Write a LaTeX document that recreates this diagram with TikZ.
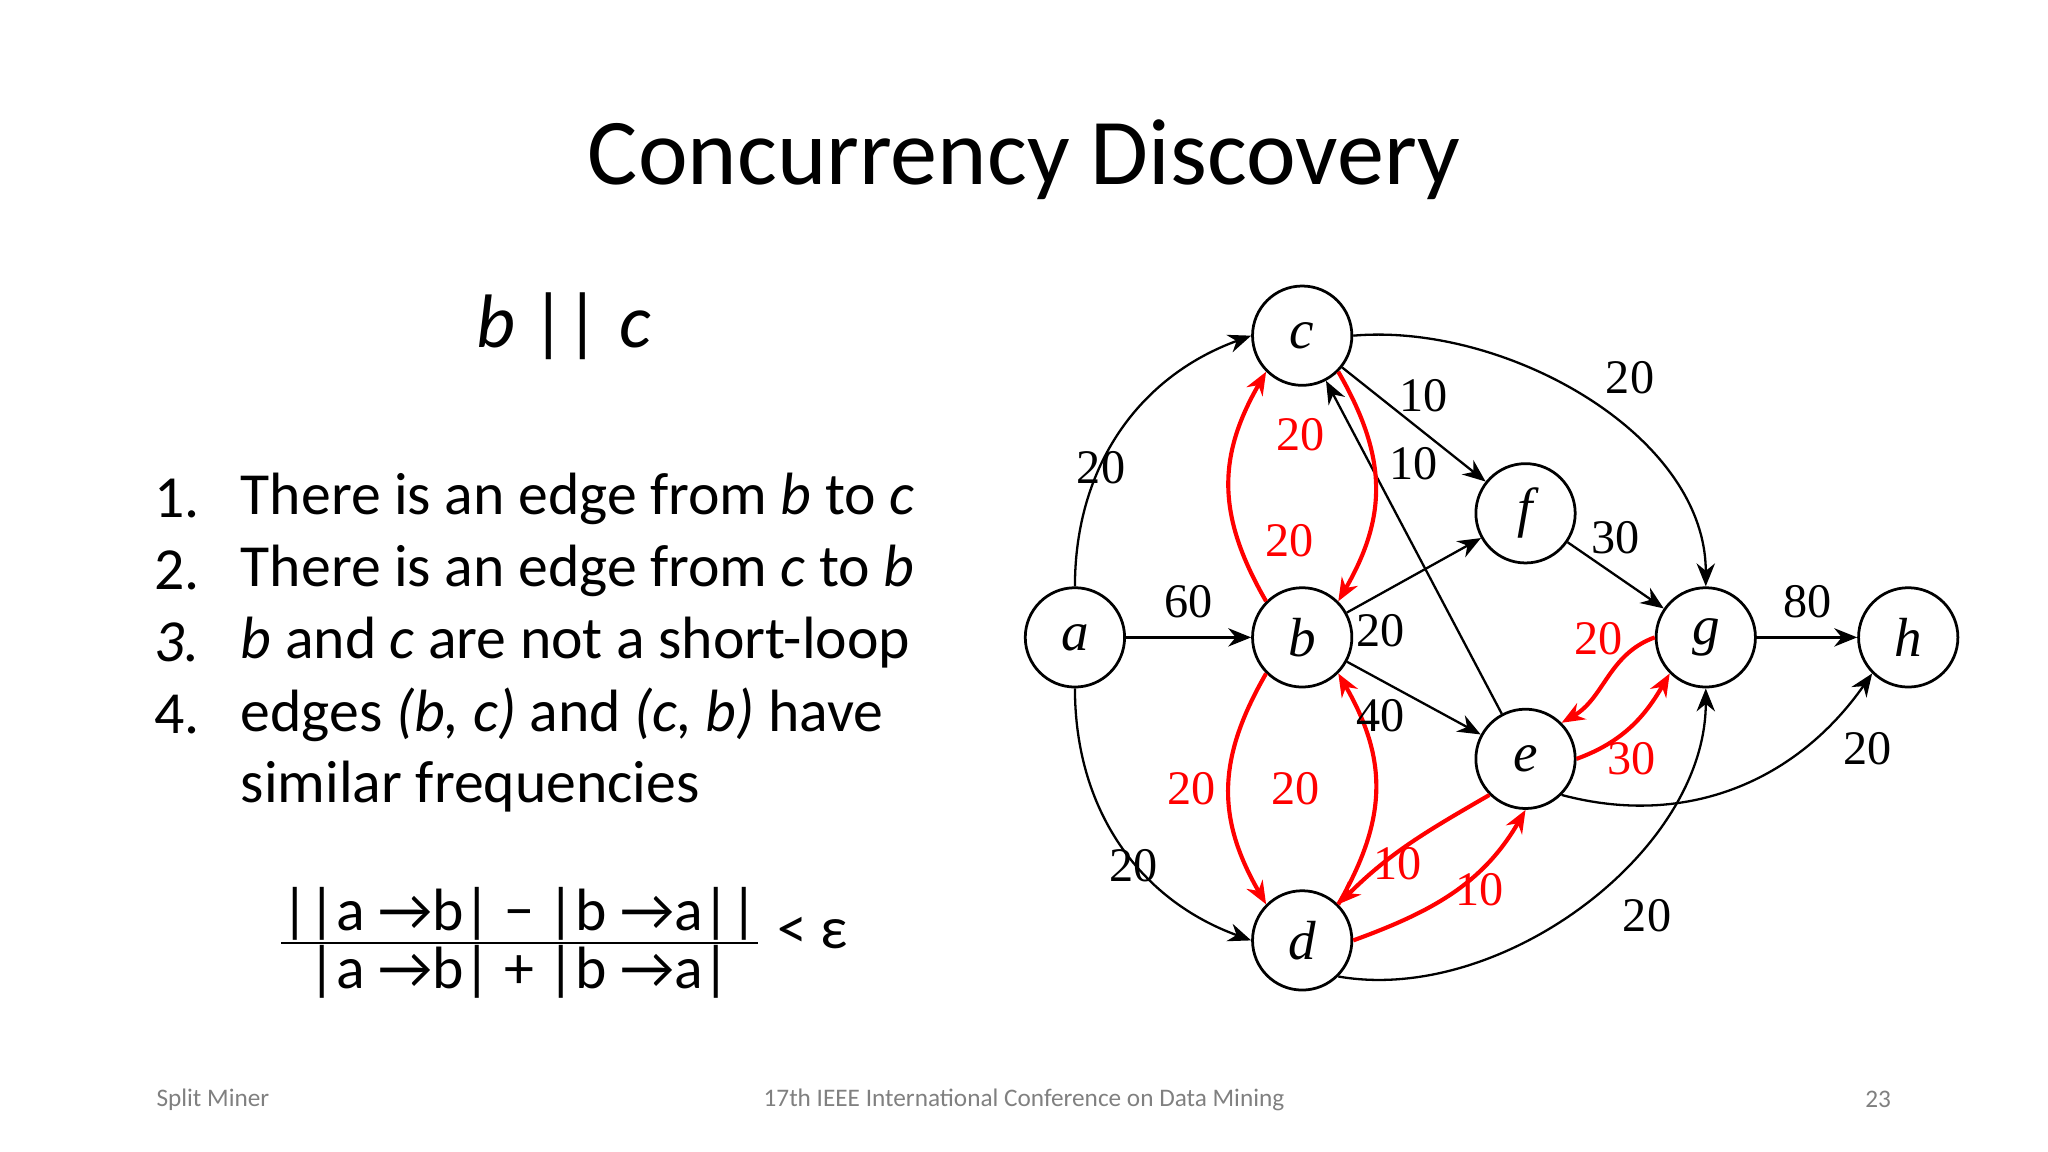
\documentclass[tikz,border=0pt]{standalone}
\usepackage{fontspec}
\setmainfont{Carlito}
\newfontfamily\tnr{Liberation Serif}
\usetikzlibrary{arrows.meta}
\begin{document}
\begin{tikzpicture}[x=0.01cm,y=-0.01cm,
  vx/.style={circle,draw,line width=0.6pt,minimum size=0.76cm,inner sep=0pt,font=\tnr\fontsize{12}{12}\selectfont\itshape},
  ed/.style={-{Stealth[length=5pt,width=4pt]},line width=0.5pt},
  red/.style={ed,draw=red,line width=0.9pt},
  lb/.style={font=\tnr\fontsize{10.5}{10.5}\selectfont},
  rl/.style={lb,text=red},
  tx/.style={font=\fontsize{13}{15}\selectfont,anchor=west}]
\useasboundingbox (0,0) rectangle (1568,882);
\node[font=\fontsize{20.5}{20.5}\selectfont] (title) at (784,122) {Concurrency Discovery};
\node[font=\fontsize{16.5}{16.5}\selectfont\itshape] (bc) at (432,250) {b || c};
\node[tx] (n1) at (106,382) {1.}; \node[tx] (t1) at (172,382) {There is an edge from \textit{b} to \textit{c}};
\node[tx] (n2) at (106,437) {2.}; \node[tx] (t2) at (172,437) {There is an edge from \textit{c} to \textit{b}};
\node[tx] (n3) at (106,492) {\textit{3.}}; \node[tx] (t3) at (172,492) {\textit{b} and \textit{c} are not a short-loop};
\node[tx] (n4) at (106,547) {4.}; \node[tx] (t4) at (172,547) {edges \textit{(b, c)} and \textit{(c, b)} have};
\node[tx] (t5) at (172,602) {similar frequencies};
\node[font=\fontsize{13}{14}\selectfont] (frac) at (430,722) {$\frac{\textrm{||a →b| − |b →a||}}{\textrm{|a →b| + |b →a|}}$ \raisebox{0.3ex}{< ε}};
\node[font=\fontsize{5.5}{6}\selectfont,text=gray] (f1) at (163,842) {Split Miner};
\node[font=\fontsize{5.5}{6}\selectfont,text=gray] (f2) at (784,842) {17th IEEE International Conference on Data Mining};
\node[font=\fontsize{5.5}{6}\selectfont,text=gray] (f3) at (1438,842) {23};
% graph
\node[vx] (c) at (997,257) {c};
\node[vx] (b) at (997,488) {b};
\node[vx] (a) at (823,488) {a};
\node[vx] (f) at (1168,393) {f};
\node[vx] (g) at (1306,488) {g};
\node[vx] (h) at (1461,488) {h};
\node[vx] (e) at (1168,581) {e};
\node[vx] (d) at (997,720) {d};
\draw[ed] (a.north) to[out=90,in=200] (c.west);
\draw[ed] (a.south) to[out=-90,in=160] (d.west);
\draw[ed] (a) -- (b);
\draw[ed] (c) -- (f);
\draw[ed] (e) -- (c);
\draw[ed] (c.east) to[out=5,in=90,looseness=0.9] (g.north);
\draw[ed] (b) -- (f);
\draw[ed] (b) -- (e);
\draw[ed] (f) -- (g);
\draw[ed] (g) -- (h);
\draw[ed] (e.south east) to[out=-15,in=235] (h.south west);
\draw[ed] (d.south east) to[out=-10,in=-90,looseness=0.9] (g.south);
\draw[red] (b.north west) to[out=120,in=240,looseness=1.1] (c.south west);
\draw[red] (c.south east) to[out=-60,in=60,looseness=1.1] (b.north east);
\draw[red] (b.south west) to[out=240,in=120,looseness=1.1] (d.north west);
\draw[red] (d.north east) to[out=60,in=-60,looseness=1.1] (b.south east);
\draw[red] (g.west) to[out=200,in=30] (e.north east);
\draw[red] (e.east) to[out=20,in=240] (g.south west);
\draw[red] (e.south west) to[out=210,in=45] (d.north east);
\draw[red] (d.east) to[out=20,in=240] (e.south);
\node[lb] (l1) at (843,358) {20};
\node[lb] (l2) at (868,663) {20};
\node[lb] (l3) at (910,461) {60};
\node[lb] (l4) at (1090,303) {10};
\node[lb] (l5) at (1082,355) {10};
\node[lb] (l6) at (1248,289) {20};
\node[lb] (l7) at (1057,483) {20};
\node[lb] (l8) at (1057,548) {40};
\node[lb] (l9) at (1237,412) {30};
\node[lb] (l10) at (1384,461) {80};
\node[lb] (l11) at (1430,573) {20};
\node[lb] (l12) at (1261,701) {20};
\node[rl] (r1) at (996,333) {20};
\node[rl] (r2) at (987,414) {20};
\node[rl] (r3) at (912,604) {20};
\node[rl] (r4) at (992,604) {20};
\node[rl] (r5) at (1224,489) {20};
\node[rl] (r6) at (1249,581) {30};
\node[rl] (r7) at (1070,661) {10};
\node[rl] (r8) at (1133,681) {10};
\end{tikzpicture}
\end{document}
